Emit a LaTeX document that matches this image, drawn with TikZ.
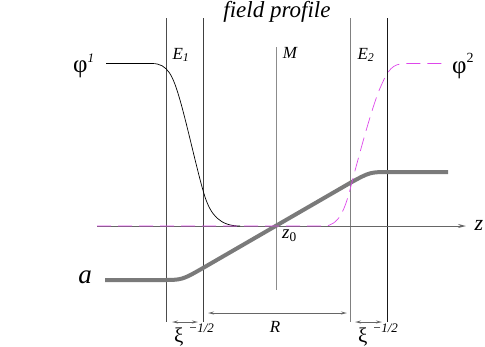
\documentclass[tikz,border=0pt]{standalone}
\usepackage{fontspec}
\setmainfont{Liberation Serif}
\usepackage{tikz}
\usetikzlibrary{arrows.meta, positioning, calc}
\definecolor{profMagenta}{RGB}{222, 70, 235}
\definecolor{profGrey}{RGB}{122, 122, 122}

\newcommand{\fsz}[1]{\fontsize{#1}{#1}\selectfont}

\begin{document}
\begin{tikzpicture}[x=1pt, y=-1pt, font=\itshape]
  % ── Palette ──
  \colorlet{colaxis}{black!60}
  \colorlet{colwall}{black!60}
  \colorlet{cola}{profGrey}
  \colorlet{colphi}{profMagenta}

  \tikzset{
    wall/.style={line width=0.8pt},
    dimarrow/.style={colaxis, line width=0.6pt,
                     {Stealth[length=6pt, width=3pt, open]}-{Stealth[length=6pt, width=3pt, open]}},
    lbl/.style={inner sep=0pt}
  }

  \useasboundingbox (0,0) rectangle (485,346);

  % ── Titre ──
  \node[lbl, font=\fsz{23}\itshape] (title) at (277,12) {field profile};

  % ── Parois E1, E2 et milieu M ──
  \foreach \xw/\nm/\cw in {166.5/eIl/black!70, 203/eIr/black!75,
                           350.5/eIIl/black!50, 387.5/eIIr/black!90} {
    \coordinate (\nm-top) at (\xw,18);
    \coordinate (\nm-bot) at (\xw,322);
    \draw[wall, \cw] (\nm-top) -- (\nm-bot);
  }
  \coordinate (m-top) at (276.5,47);
  \coordinate (m-bot) at (276.5,290);
  \draw[wall, black!45] (m-top) -- (m-bot);

  \node[lbl, font=\fsz{17}\itshape] (labE1) at (181,55) {E\textsubscript{1}};
  \node[lbl, font=\fsz{17}\itshape] (labM) at (290,53) {M};
  \node[lbl, font=\fsz{17}\itshape] (labE2) at (366,55) {E\textsubscript{2}};

  % ── Axe z ──
  \coordinate (ax-start) at (97,226);
  \coordinate (ax-end) at (466,226);
  \draw[colaxis, line width=0.8pt, -{Stealth[length=8pt, width=4pt, open]}]
    (ax-start) -- (ax-end);
  \node[lbl, font=\fsz{22}\itshape] (labz) at (479,225) {z};
  \node[lbl, font=\fsz{19}\itshape, anchor=north west] (labz0) at (282,230)
    {z\textsubscript{\upshape 0}};

  % ── Champ a (trait épais) ──
  \draw[cola, line width=4pt]
    (105,280) -- (162,280) .. controls (182,280) .. (203,268)
    -- (350,183) .. controls (370,172) .. (390,172) -- (448,172);
  \node[lbl, font=\fsz{27}\itshape] (laba) at (85,277) {a};

  % ── Profil phi1 ──
  \draw[black, line width=0.7pt]
    (106,63.5) -- (152,63.5) .. controls (168,63.5) and (173,76) .. (180,100)
    .. controls (188,128) and (198,175) .. (205,197)
    .. controls (211,215) and (220,226) .. (240,226);
  \node[lbl, font=\fsz{25}\upshape, anchor=west] (labphiI) at (73,66)
    {φ\raisebox{0.42em}{\fsz{13}\itshape 1}};

  % ── Profil phi2 (tirets) ──
  \draw[colphi, line width=0.7pt, dash pattern=on 14pt off 7pt]
    (97,226) -- (324,226) .. controls (339,226) and (345,209) .. (351,186)
    .. controls (359,155) and (374,100) .. (381,86)
    .. controls (388,70) and (392,63.5) .. (406,63.5) -- (448,63.5);
  \node[lbl, font=\fsz{25}\upshape, anchor=west] (labphiII) at (452,66)
    {φ\raisebox{0.42em}{\fsz{14}2}};

  % ── Cotes ──
  \coordinate (R-l) at (208,313);
  \coordinate (R-r) at (347,313);
  \draw[dimarrow] (R-l) -- (R-r);
  \node[lbl, font=\fsz{17}\itshape] (labR) at (275,327) {R};

  \coordinate (xiI-l) at (172,322);
  \coordinate (xiI-r) at (198,322);
  \draw[dimarrow] (xiI-l) -- (xiI-r);
  \node[lbl, font=\fsz{21}\upshape, anchor=base west] (labxiI) at (174,342)
    {ξ\hspace{5pt}\raisebox{0.45em}{\fsz{13}\itshape −1/2}};

  \coordinate (xiII-l) at (355,322);
  \coordinate (xiII-r) at (382,322);
  \draw[dimarrow] (xiII-l) -- (xiII-r);
  \node[lbl, font=\fsz{21}\upshape, anchor=base west] (labxiII) at (358,342)
    {ξ\hspace{5pt}\raisebox{0.45em}{\fsz{13}\itshape −1/2}};

\end{tikzpicture}
\end{document}
